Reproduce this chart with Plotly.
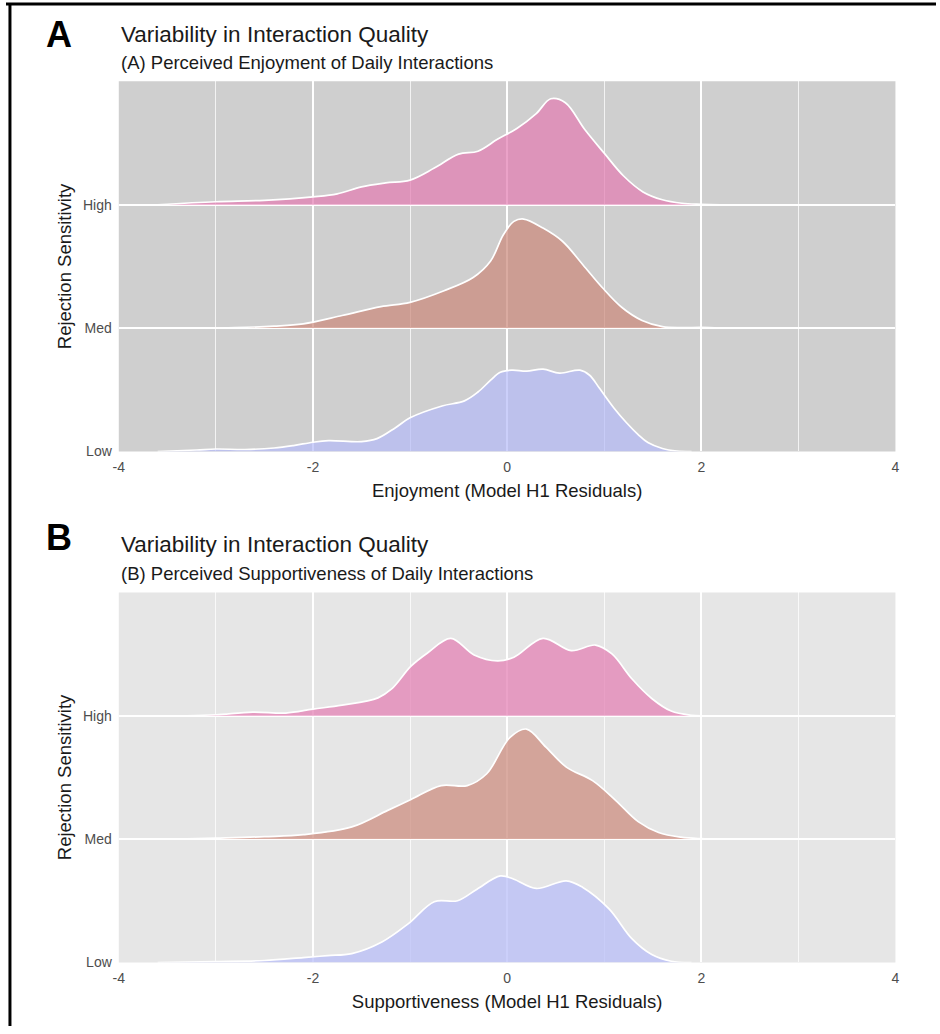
import plotly.graph_objects as go

# ---------------- data (ridge heights in row units) ----------------
groups = ["Low", "Med", "High"]

# Panel A: Enjoyment residuals
a_high_x = [-3.6, -3.0, -2.5, -2.0, -1.75, -1.5, -1.25, -1.0, -0.75, -0.5, -0.3, -0.1, 0.1, 0.3, 0.45, 0.6, 0.8, 1.0, 1.2, 1.4, 1.6, 1.8, 2.0, 2.2]
a_high_d = [0.0, 0.024, 0.036, 0.064, 0.088, 0.145, 0.177, 0.2, 0.297, 0.41, 0.434, 0.53, 0.618, 0.739, 0.859, 0.827, 0.61, 0.418, 0.233, 0.104, 0.04, 0.012, 0.004, 0.0]

a_med_x = [-3.2, -2.8, -2.4, -2.1, -1.7, -1.3, -1.0, -0.65, -0.35, -0.17, -0.04, 0.07, 0.17, 0.37, 0.57, 0.78, 0.98, 1.18, 1.39, 1.6, 1.8, 2.0, 2.2]
a_med_d = [0.0, 0.004, 0.016, 0.035, 0.102, 0.174, 0.209, 0.303, 0.41, 0.544, 0.755, 0.865, 0.884, 0.811, 0.704, 0.514, 0.329, 0.169, 0.062, 0.012, 0.004, 0.006, 0.0]

a_low_x = [-3.6, -3.2, -3.0, -2.7, -2.4, -2.2, -2.0, -1.84, -1.5, -1.34, -1.15, -1.0, -0.67, -0.44, -0.3, -0.17, -0.07, 0.05, 0.2, 0.37, 0.54, 0.75, 0.85, 0.95, 1.1, 1.23, 1.35, 1.45, 1.6, 1.75, 1.9]
a_low_d = [0.0, 0.012, 0.02, 0.016, 0.028, 0.048, 0.075, 0.088, 0.08, 0.104, 0.193, 0.273, 0.369, 0.41, 0.482, 0.578, 0.643, 0.659, 0.651, 0.667, 0.635, 0.659, 0.618, 0.514, 0.353, 0.233, 0.137, 0.072, 0.024, 0.004, 0.0]

# Panel B: Supportiveness residuals
b_high_x = [-3.3, -3.0, -2.62, -2.28, -2.0, -1.7, -1.33, -1.19, -0.99, -0.82, -0.58, -0.34, -0.1, 0.07, 0.37, 0.66, 0.91, 1.08, 1.285, 1.49, 1.69, 1.9, 2.0]
b_high_d = [0.0, 0.008, 0.03, 0.022, 0.054, 0.086, 0.145, 0.217, 0.402, 0.509, 0.627, 0.493, 0.445, 0.474, 0.627, 0.528, 0.573, 0.501, 0.3, 0.14, 0.038, 0.004, 0.0]

b_med_x = [-3.4, -3.0, -2.5, -2.1, -1.6, -1.23, -0.99, -0.68, -0.41, -0.21, 0.03, 0.2, 0.4, 0.61, 0.88, 1.12, 1.35, 1.56, 1.79, 2.0, 2.2]
b_med_d = [0.0, 0.008, 0.02, 0.036, 0.099, 0.233, 0.321, 0.434, 0.434, 0.53, 0.825, 0.892, 0.745, 0.584, 0.474, 0.313, 0.142, 0.054, 0.016, 0.004, 0.0]

b_low_x = [-3.6, -3.0, -2.5, -2.1, -1.85, -1.6, -1.29, -1.02, -0.75, -0.51, -0.31, -0.07, 0.07, 0.3, 0.61, 0.78, 1.05, 1.285, 1.49, 1.69, 1.9]
b_low_d = [0.0, 0.008, 0.016, 0.04, 0.056, 0.072, 0.166, 0.313, 0.493, 0.501, 0.594, 0.702, 0.675, 0.6, 0.662, 0.608, 0.434, 0.193, 0.064, 0.01, 0.0]

x_ticks = [-4, -2, 0, 2, 4]

panels = [
    dict(ridges=[(a_low_x, a_low_d), (a_med_x, a_med_d), (a_high_x, a_high_d)],
         title="Variability in Interaction Quality",
         subtitle="(A) Perceived Enjoyment of Daily Interactions",
         letter="A", xtitle="Enjoyment (Model H1 Residuals)", bg="#cfcfcf"),
    dict(ridges=[(b_low_x, b_low_d), (b_med_x, b_med_d), (b_high_x, b_high_d)],
         title="Variability in Interaction Quality",
         subtitle="(B) Perceived Supportiveness of Daily Interactions",
         letter="B", xtitle="Supportiveness (Model H1 Residuals)", bg="#e6e6e6"),
]

fills = {"Low": "rgba(181,187,248,0.7)", "Med": "rgba(202,135,121,0.7)", "High": "rgba(227,122,177,0.7)"}

W, H = 940, 1034
FONT = "Liberation Sans, Arial, sans-serif"

def px_x(p):
    return p / W

def px_y(p):
    return 1 - p / H

# pixel geometry of each panel: (top, bottom)
geo = [(82, 455), (597, 970)]
x_left, x_right = 114, 899

fig = go.Figure()
annotations = []
shapes = []

for i, (pan, (top, bot)) in enumerate(zip(panels, geo)):
    xa = "x" if i == 0 else "x2"
    ya = "y" if i == 0 else "y2"
    # draw top ridge first so lower ones overlap
    for gi in [2, 1, 0]:
        g = groups[gi]
        xs, ds = pan["ridges"][gi]
        fig.add_trace(go.Scatter(x=xs, y=[gi] * len(xs), mode="lines",
                                 line=dict(width=0, color="rgba(0,0,0,0)"),
                                 xaxis=xa, yaxis=ya, hoverinfo="skip", showlegend=False))
        fig.add_trace(go.Scatter(x=xs, y=[gi + d for d in ds], mode="lines",
                                 line=dict(color="white", width=1.7, shape="spline", smoothing=1.0),
                                 fill="tonexty", fillcolor=fills[g],
                                 xaxis=xa, yaxis=ya, name=g, showlegend=False))
    dom_y = [px_y(bot), px_y(top)]
    xkey = "xaxis" if i == 0 else "xaxis2"
    ykey = "yaxis" if i == 0 else "yaxis2"
    fig.update_layout(**{
        xkey: dict(domain=[px_x(x_left), px_x(x_right)], range=[-4, 4], tickvals=x_ticks,
                   ticktext=[str(v) for v in x_ticks], showgrid=True, gridcolor="white", gridwidth=1.6,
                   zeroline=False, showline=False, ticks="", ticklabelstandoff=6,
                   minor=dict(dtick=1, tick0=-4, showgrid=True, gridcolor="rgba(255,255,255,0.75)", gridwidth=0.8),
                   tickfont=dict(family=FONT, size=14, color="#4d4d4d"),
                   title=dict(text=pan["xtitle"], font=dict(family=FONT, size=18.5, color="#1a1a1a"), standoff=9),
                   anchor=ya, fixedrange=True),
        ykey: dict(domain=dom_y, range=[0, 3], tickvals=[0, 1, 2], ticktext=groups,
                   showgrid=True, gridcolor="white", gridwidth=1.8, zeroline=False, showline=False,
                   ticks="", ticklabelstandoff=6,
                   tickfont=dict(family=FONT, size=14, color="#4d4d4d"),
                   title=dict(text="Rejection Sensitivity", font=dict(family=FONT, size=18.5, color="#1a1a1a"), standoff=6),
                   anchor=xa, fixedrange=True),
    })
    shapes.append(dict(type="rect", xref="paper", yref="paper", x0=px_x(x_left), x1=px_x(x_right),
                       y0=px_y(bot), y1=px_y(top), fillcolor=pan["bg"], line=dict(width=0), layer="below"))
    title_y = 35 if i == 0 else 549
    sub_y = 63 if i == 0 else 578
    let_y = 35 if i == 0 else 542
    annotations.append(dict(text=pan["title"], x=px_x(x_left), y=px_y(title_y), xref="paper", yref="paper",
                            xanchor="left", yanchor="middle", showarrow=False,
                            font=dict(family=FONT, size=22.5, color="#1a1a1a")))
    annotations.append(dict(text=pan["subtitle"], x=px_x(x_left), y=px_y(sub_y), xref="paper", yref="paper",
                            xanchor="left", yanchor="middle", showarrow=False,
                            font=dict(family=FONT, size=18.5, color="#1a1a1a")))
    annotations.append(dict(text="<b>" + pan["letter"] + "</b>", x=px_x(54), y=px_y(let_y), xref="paper", yref="paper",
                            xanchor="center", yanchor="middle", showarrow=False,
                            font=dict(family=FONT, size=36, color="black")))

# partial black frame (top and left edges)
shapes.append(dict(type="line", xref="paper", yref="paper", x0=0, x1=1, y0=px_y(4), y1=px_y(4),
                   line=dict(color="black", width=3)))
shapes.append(dict(type="line", xref="paper", yref="paper", x0=px_x(4), x1=px_x(4), y0=0, y1=px_y(3),
                   line=dict(color="black", width=3)))

fig.update_layout(width=W, height=H, margin=dict(l=0, r=0, t=0, b=0),
                  paper_bgcolor="white", plot_bgcolor="rgba(0,0,0,0)",
                  shapes=shapes, annotations=annotations, showlegend=False)

fig.write_html("out.html", config={"displayModeBar": False},
               post_script="document.body.style.margin='0';document.body.style.overflow='hidden';")
